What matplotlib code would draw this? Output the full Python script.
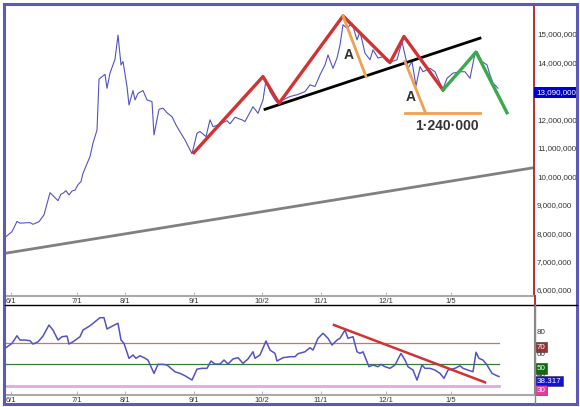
import matplotlib
matplotlib.use("Agg")
import matplotlib.pyplot as plt
import matplotlib.transforms as mtrans
from matplotlib.lines import Line2D
from matplotlib.patches import Rectangle

W, H = 580, 407

# price (millions) by bar index
price_day = [0, 7, 12, 15, 25, 28, 34, 39, 45, 53, 56, 58, 61, 64, 67, 70, 73, 76, 78, 85,
             88, 92, 94, 100, 102, 105, 110, 113, 116, 118, 122, 124, 128, 130, 133, 138, 142,
             147, 149, 154, 158, 162, 167, 171, 173, 180, 187, 192, 195, 201, 205, 208, 213,
             222, 225, 230, 237, 240, 248, 253, 258, 261, 265, 270, 273, 278, 285, 292, 300,
             305, 310, 315, 320, 323, 328, 332, 335, 338, 342, 347, 352, 355, 360, 365, 368,
             373, 378, 382, 387, 392, 397, 400, 403, 407, 411, 415, 418, 425, 430, 435, 438,
             442, 448, 455, 460, 465, 470, 472, 477, 482, 485, 488, 493]
price = [7.85, 8.05, 8.41, 8.35, 8.37, 8.31, 8.40, 8.64, 9.42, 9.14, 9.37, 9.40, 9.49, 9.34,
         9.48, 9.51, 9.70, 9.81, 10.10, 10.69, 11.16, 11.62, 13.41, 13.58, 13.09, 13.62, 14.11,
         14.96, 13.91, 14.03, 13.15, 12.50, 13.01, 12.68, 12.91, 13.01, 12.68, 12.62, 11.45,
         12.35, 12.39, 12.23, 12.09, 11.80, 11.68, 11.27, 10.79, 11.51, 11.57, 11.39, 11.98,
         11.74, 11.80, 11.95, 11.84, 12.07, 11.98, 11.92, 12.44, 12.21, 12.68, 13.38, 12.97,
         12.68, 12.56, 12.68, 12.80, 12.86, 12.97, 13.21, 13.15, 13.56, 13.91, 14.26, 13.79,
         14.15, 14.61, 15.32, 15.20, 15.38, 14.79, 15.08, 14.32, 14.09, 14.44, 14.15, 14.20,
         14.03, 14.03, 14.09, 14.73, 14.26, 13.79, 14.03, 13.17, 13.85, 13.67, 13.79, 13.67,
         13.27, 13.06, 13.44, 13.62, 13.67, 13.67, 13.44, 14.32, 14.38, 14.03, 13.91, 13.56,
         13.27, 13.09]

rsi_day = [0, 7, 12, 15, 20, 25, 28, 33, 38, 44, 48, 53, 57, 62, 64, 68, 75, 78, 85, 95, 99,
           102, 108, 113, 116, 119, 124, 128, 131, 135, 139, 143, 149, 153, 158, 162, 170, 175,
           180, 187, 192, 197, 202, 206, 210, 215, 219, 223, 228, 233, 238, 243, 248, 250, 255,
           261, 265, 270, 272, 278, 285, 290, 293, 300, 305, 308, 313, 318, 323, 327, 332, 335,
           340, 343, 348, 352, 355, 358, 364, 368, 373, 376, 380, 385, 390, 396, 400, 403, 408,
           412, 417, 420, 425, 430, 435, 439, 443, 450, 455, 458, 463, 468, 471, 474, 478, 482,
           487, 492, 494]
rsi = [64.6, 69.2, 76.3, 72.3, 72.3, 71.7, 68.6, 70.7, 76.0, 86.3, 81.6, 72.3, 75.4, 76.0,
       68.6, 70.7, 75.4, 81.6, 85.6, 93.1, 93.1, 82.6, 85.6, 87.9, 72.3, 69.2, 55.3, 58.4, 55.3,
       57.7, 55.9, 53.7, 41.3, 49.7, 49.7, 49.1, 42.8, 41.3, 39.1, 35.1, 45.3, 46.0, 46.0, 52.8,
       50.0, 50.0, 53.7, 50.0, 54.7, 55.9, 50.6, 54.7, 61.4, 55.3, 58.4, 71.4, 63.0, 59.9, 52.8,
       55.9, 56.8, 56.8, 59.6, 61.4, 65.2, 63.0, 73.9, 78.6, 73.9, 67.7, 72.3, 73.9, 81.6, 73.9,
       75.4, 61.4, 59.9, 61.4, 47.5, 49.1, 47.5, 49.7, 47.5, 46.0, 49.1, 59.9, 53.7, 47.5, 44.4,
       35.1, 49.1, 46.0, 46.0, 44.4, 41.3, 36.7, 44.4, 46.0, 48.4, 46.0, 44.4, 42.8, 60.9, 55.3,
       53.7, 49.1, 41.3, 39.1, 38.317]

tick_days = [6, 72, 120, 189, 257, 316, 381, 446]
tick_labels = ['6/1', '7/1', '8/1', '9/1', '10/2', '11/1', '12/1', '1/5']
price_ticks = [6, 7, 8, 9, 10, 11, 12, 13, 14, 15]
last_price = 13.09
last_rsi = 38.317

# drawn pattern lines
red_day = [189, 258, 274, 338, 385, 399, 438]
red_val = [10.83, 13.50, 12.56, 15.63, 13.99, 14.91, 13.03]
green_day = [438, 457, 471, 502]
green_val = [13.03, 13.79, 14.36, 12.23]
black_day = [260, 475]
black_val = [12.35, 14.85]
gray_day = [0, 529]
gray_val = [7.29, 10.30]
orange1_day = [338, 361]
orange1_val = [15.63, 13.50]
orange2_day = [400, 420]
orange2_val = [14.03, 12.27]
target_day = [400, 475]
target_val = [12.23, 12.23]
rsi_trend_day = [329, 480]
rsi_trend_val = [86.3, 33.0]

font = ['Liberation Sans Narrow', 'Liberation Sans', 'DejaVu Sans']
plt.rcParams['font.family'] = font

fig = plt.figure(figsize=(W / 100, H / 100), dpi=100)
fig.patch.set_facecolor('white')

ax1 = fig.add_axes([5 / W, 1 - 296 / H, 529 / W, 290 / H])
ax2 = fig.add_axes([5 / W, 1 - 395 / H, 529 / W, 90 / H])

line_blue = '#5252c4'

# --- price pane
ax1.plot(gray_day, gray_val, color='#808080', lw=2, solid_capstyle='butt')
ax1.plot(price_day, price, color=line_blue, lw=0.8)
ax1.plot(black_day, black_val, color='black', lw=2)
ax1.plot(red_day, red_val, color='#d23232', lw=2.4)
ax1.plot(green_day, green_val, color='#3aaa4a', lw=2.4)
for dd, vv in [(orange1_day, orange1_val), (orange2_day, orange2_val), (target_day, target_val)]:
    ax1.plot(dd, vv, color='#f0a050', lw=2)
ax1.text(344, 14.26, 'A', fontsize=10, fontweight='bold', color='#333333',
         family=['Liberation Sans', 'DejaVu Sans'], ha='center', va='center')
ax1.text(405.7, 12.80, 'A', fontsize=10, fontweight='bold', color='#333333',
         family=['Liberation Sans', 'DejaVu Sans'], ha='center', va='center')
ax1.text(441.7, 11.77, '1·240·000', fontsize=10, fontweight='bold', color='#333333',
         family=['Liberation Sans', 'DejaVu Sans'], ha='center', va='center')

ax1.set_xlim(0, 529)
ax1.set_ylim(5.79, 15.98)
ax1.yaxis.tick_right()
ax1.set_yticks(price_ticks)
ax1.set_yticklabels([f'{v * 1000000:,.0f}' for v in price_ticks])
ax1.tick_params(axis='y', length=0, pad=2.2, labelsize=5.8, labelcolor='#333333')
ax1.set_xticks(tick_days)
ax1.set_xticklabels(tick_labels)
ax1.tick_params(axis='x', direction='in', length=3, color='#bbbbbb', labelsize=5.5,
                pad=1.5, labelcolor='#333333')
for s in ['top', 'left']:
    ax1.spines[s].set_visible(False)
ax1.spines['right'].set_color('#b83030')
ax1.spines['right'].set_linewidth(1.4)
ax1.spines['bottom'].set_color('#aaaaaa')
ax1.spines['bottom'].set_linewidth(1.5)

down = mtrans.ScaledTranslation(0, -4.5 / 100, fig.dpi_scale_trans)
tr1 = mtrans.blended_transform_factory(ax1.transAxes, ax1.transData) + down
ax1.text(1.0 + 2 / 529, last_price, f'{last_price * 1000000:,.0f}', transform=tr1,
         fontsize=5.8, color='white', ha='left', va='center', clip_on=False,
         bbox=dict(boxstyle='square,pad=0.25', fc='#0000cc', ec='none'))

# --- RSI pane
ax2.axhline(70, xmax=494 / 529, color='#c07a6a', lw=0.9)
ax2.axhline(50, xmax=494 / 529, color='#3a7a3a', lw=0.9)
ax2.axhline(30, xmax=494 / 529, color='#e4a8e4', lw=2)
ax2.plot(rsi_day, rsi, color=line_blue, lw=1.1)
ax2.plot(rsi_trend_day, rsi_trend_val, color='#d23232', lw=1.8)

ax2.set_xlim(0, 529)
ax2.set_ylim(21.2, 104.9)
ax2.yaxis.tick_right()
ax2.set_yticks([40, 60, 80])
ax2.tick_params(axis='y', length=0, pad=2.2, labelsize=5.8, labelcolor='#333333')
ax2.set_xticks(tick_days)
ax2.set_xticklabels(tick_labels)
ax2.tick_params(axis='x', direction='in', length=3, color='#bbbbbb', labelsize=5.5,
                pad=1.5, labelcolor='#333333')
ax2.spines['left'].set_visible(False)
ax2.spines['top'].set_visible(False)
ax2.spines['right'].set_color('#888888')
ax2.spines['bottom'].set_color('#aaaaaa')
ax2.spines['bottom'].set_linewidth(1.5)

tr2 = mtrans.blended_transform_factory(ax2.transAxes, ax2.transData) + down
for val, txt, col in [(70, '70', '#993333'), (50, '50', '#106a10'),
                      (last_rsi, f'{last_rsi:.3f}', '#1010dd'), (30, '30', '#e0409a')]:
    ax2.text(1.0 + 3 / 529, val, txt, transform=tr2, fontsize=5.8, color='white',
             ha='left', va='center', clip_on=False, zorder=5,
             bbox=dict(boxstyle='square,pad=0.2', fc=col, ec='#333333', lw=0.4))

# separators and frame
fig.add_artist(Line2D([5 / W, 577 / W], [1 - 305 / H] * 2, color='black', lw=1))
fig.add_artist(Line2D([534.5 / W] * 2, [1 - 296 / H, 1 - 305 / H], color='#b83030', lw=1.4))
fig.add_artist(Line2D([534.5 / W] * 2, [1 - 305 / H, 1 - 403 / H], color='#888888', lw=1))
fig.add_artist(Rectangle((3.5 / W, 1 - 404 / H), 573 / W, 400 / H, transform=fig.transFigure,
                         fill=False, ec='#5a5ab8', lw=2.2))

fig.savefig('out.png', dpi=100)
